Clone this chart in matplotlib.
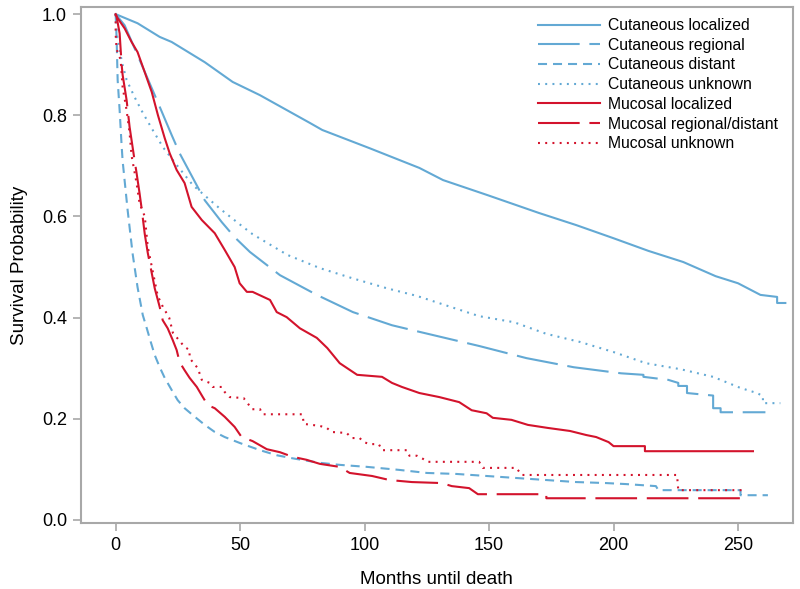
import matplotlib
matplotlib.use("Agg")
import matplotlib.pyplot as plt

plt.rcParams['lines.scale_dashes'] = False

# Kaplan-Meier curves (months, survival probability)
cut_loc_t = [0, 8.8, 17.7, 22.5, 35.8, 47, 57.9, 78, 83, 102, 122, 131.5, 149.5, 170, 185, 200,
             214, 228, 241, 250, 259, 265.7, 265.7, 269]
cut_loc_s = [1.0, 0.982, 0.955, 0.945, 0.905, 0.866, 0.84, 0.785, 0.771, 0.735, 0.696, 0.672, 0.642,
             0.607, 0.583, 0.557, 0.532, 0.51, 0.482, 0.468, 0.445, 0.441, 0.429, 0.429]

cut_reg_t = [0, 3.6, 8.8, 15.7, 22.5, 25.7, 35.8, 42.6, 47.8, 53.9, 66, 80.8, 95.3, 111, 122, 146,
             165, 184, 203, 212, 212, 222, 226, 226, 229.5, 229.5, 240, 240, 243, 243, 261]
cut_reg_s = [1.0, 0.978, 0.919, 0.84, 0.761, 0.725, 0.632, 0.589, 0.559, 0.53, 0.484, 0.445, 0.411,
             0.385, 0.372, 0.344, 0.32, 0.302, 0.29, 0.287, 0.283, 0.277, 0.271, 0.265, 0.265,
             0.251, 0.246, 0.221, 0.221, 0.213, 0.213]

cut_dis_t = [0, 0.4, 0.8, 1.6, 2.4, 2.8, 4.8, 6.8, 8.8, 9.6, 10.9, 12.5, 14.1, 15.7, 17.7, 19.7,
             22.5, 24.9, 27.7, 31.8, 35.8, 39.8, 43.8, 50, 58, 64.7, 71, 82, 90, 101, 114, 125,
             137, 149, 161, 185, 197, 205, 217, 218, 251, 251, 262]
cut_dis_s = [1.0, 0.95, 0.87, 0.81, 0.74, 0.71, 0.613, 0.527, 0.46, 0.439, 0.405, 0.379, 0.352,
             0.326, 0.302, 0.281, 0.257, 0.237, 0.221, 0.204, 0.188, 0.174, 0.164, 0.152, 0.138,
             0.128, 0.122, 0.113, 0.109, 0.105, 0.099, 0.093, 0.091, 0.087, 0.083, 0.075, 0.073,
             0.071, 0.067, 0.059, 0.059, 0.049, 0.049]

cut_unk_t = [0, 0.5, 2.6, 4.4, 7.6, 11, 15, 19, 24, 31, 38, 42, 51, 55, 69, 82, 95, 109, 121, 146,
             160, 173, 186.5, 200, 213, 227, 240, 251, 257.6, 260, 260, 267]
cut_unk_s = [1.0, 0.96, 0.903, 0.87, 0.836, 0.804, 0.77, 0.737, 0.705, 0.662, 0.632, 0.615, 0.58,
             0.565, 0.524, 0.498, 0.478, 0.458, 0.443, 0.403, 0.391, 0.368, 0.352, 0.332, 0.31,
             0.298, 0.283, 0.261, 0.251, 0.245, 0.231, 0.231]

muc_loc_t = [0, 0.8, 3.6, 6.4, 8.8, 11.7, 14.5, 17, 19.7, 21.7, 24.5, 27.7, 30.5, 34.6, 39.8, 43.8,
             47.8, 49.8, 52.7, 55, 62, 64.7, 68.7, 74, 80.8, 85, 90, 97, 107, 111, 115, 122, 130,
             138, 143, 149, 151.5, 159, 165.6, 173.6, 182.5, 189, 193, 198, 200, 212.6, 212.6, 256]
muc_loc_s = [1.0, 0.992, 0.972, 0.945, 0.925, 0.885, 0.846, 0.8, 0.755, 0.725, 0.692, 0.666, 0.619,
             0.593, 0.567, 0.534, 0.5, 0.468, 0.451, 0.451, 0.435, 0.411, 0.401, 0.379, 0.36, 0.34,
             0.31, 0.287, 0.283, 0.271, 0.263, 0.251, 0.243, 0.233, 0.217, 0.211, 0.202, 0.198,
             0.188, 0.182, 0.176, 0.168, 0.164, 0.154, 0.146, 0.146, 0.136, 0.136]

muc_rd_t = [0, 0.4, 1.6, 2.4, 2.8, 4.4, 5.6, 7.6, 8.4, 9.6, 10.4, 11.7, 12.9, 14.5, 15.7, 17.7,
            18.9, 20.9, 22.9, 24.5, 25.7, 27.7, 29.7, 32.6, 35, 37, 39.8, 43.8, 47.8, 50.6, 55,
            60.7, 66, 71, 76.7, 82, 90, 94, 103, 110, 119, 131, 135, 142, 145.5, 173, 173, 251]
muc_rd_s = [1.0, 0.994, 0.962, 0.9, 0.88, 0.83, 0.777, 0.711, 0.686, 0.646, 0.617, 0.565, 0.528,
            0.488, 0.458, 0.421, 0.395, 0.379, 0.356, 0.336, 0.312, 0.296, 0.281, 0.263, 0.243,
            0.227, 0.221, 0.204, 0.184, 0.164, 0.156, 0.14, 0.134, 0.125, 0.119, 0.111, 0.105,
            0.093, 0.087, 0.079, 0.075, 0.073, 0.067, 0.063, 0.051, 0.051, 0.043, 0.043]

muc_unk_t = [0, 0, 0.4, 2, 2.8, 4.4, 5.6, 6.4, 8.4, 9.6, 11.7, 12.9, 16.9, 19, 21.5, 23, 27.7, 29.7,
             29.7, 33, 34.6, 37.8, 39, 42.6, 43.8, 45.8, 51.4, 53, 54.7, 58, 59, 75, 75.6, 82,
             84.8, 86.8, 92.8, 94.8, 98, 99.7, 102, 105.7, 107, 117, 118, 121, 123.4, 125.4, 146,
             147.5, 161, 163, 225.5, 226, 253]
muc_unk_s = [1.0, 0.96, 0.93, 0.91, 0.856, 0.81, 0.765, 0.72, 0.666, 0.626, 0.6, 0.54, 0.443,
             0.421, 0.4, 0.37, 0.342, 0.336, 0.32, 0.3, 0.277, 0.271, 0.263, 0.263, 0.253, 0.243,
             0.241, 0.231, 0.219, 0.219, 0.209, 0.209, 0.19, 0.186, 0.182, 0.174, 0.172, 0.162,
             0.162, 0.154, 0.15, 0.15, 0.138, 0.138, 0.127, 0.127, 0.121, 0.115, 0.115, 0.103,
             0.103, 0.089, 0.089, 0.059, 0.059]

labels = ["Cutaneous localized", "Cutaneous regional", "Cutaneous distant", "Cutaneous unknown",
          "Mucosal localized", "Mucosal regional/distant", "Mucosal unknown"]

blue = "#63A9D4"
red = "#D3132C"
longdash = (0, (30, 7))
shortdash = (0, (6.5, 4.3))
dots = (0, (1.4, 3.8))

series = [
    (cut_loc_t, cut_loc_s, blue, "-"),
    (cut_reg_t, cut_reg_s, blue, longdash),
    (cut_dis_t, cut_dis_s, blue, shortdash),
    (cut_unk_t, cut_unk_s, blue, dots),
    (muc_loc_t, muc_loc_s, red, "-"),
    (muc_rd_t, muc_rd_s, red, longdash),
    (muc_unk_t, muc_unk_s, red, dots),
]

fig = plt.figure(figsize=(8, 5.89), dpi=100)
ax = fig.add_axes([0.101, 0.112, 0.89, 0.876])

for (t, s, c, ls), lab in zip(series, labels):
    ax.plot(t, s, color=c, linestyle=ls, linewidth=1.5, label=lab)

ax.set_xlim(-14, 272)
ax.set_ylim(-0.006, 1.014)
ax.set_xticks([0, 50, 100, 150, 200, 250])
ax.set_yticks([0.0, 0.2, 0.4, 0.6, 0.8, 1.0])
ax.set_yticklabels(["0.0", "0.2", "0.4", "0.6", "0.8", "1.0"])

font = ["Liberation Sans", "DejaVu Sans"]
for sp in ax.spines.values():
    sp.set_color("#A8A8A8")
    sp.set_linewidth(1.5)
ax.tick_params(colors="#A8A8A8", length=6, width=1.2, labelcolor="black", labelsize=13, pad=4)
for lbl in ax.get_xticklabels() + ax.get_yticklabels():
    lbl.set_family(font)

ax.set_xlabel("Months until death", fontsize=13.5, family=font, labelpad=12)
ax.set_ylabel("Survival Probability", fontsize=13.5, family=font, labelpad=10)

leg = ax.legend(loc="upper right", bbox_to_anchor=(0.994, 1.0), frameon=False,
                prop={"family": font, "size": 11.3},
                handlelength=3.95, handletextpad=0.5, labelspacing=0.3, borderaxespad=0.3)

fig.savefig("out.png", dpi=100)
